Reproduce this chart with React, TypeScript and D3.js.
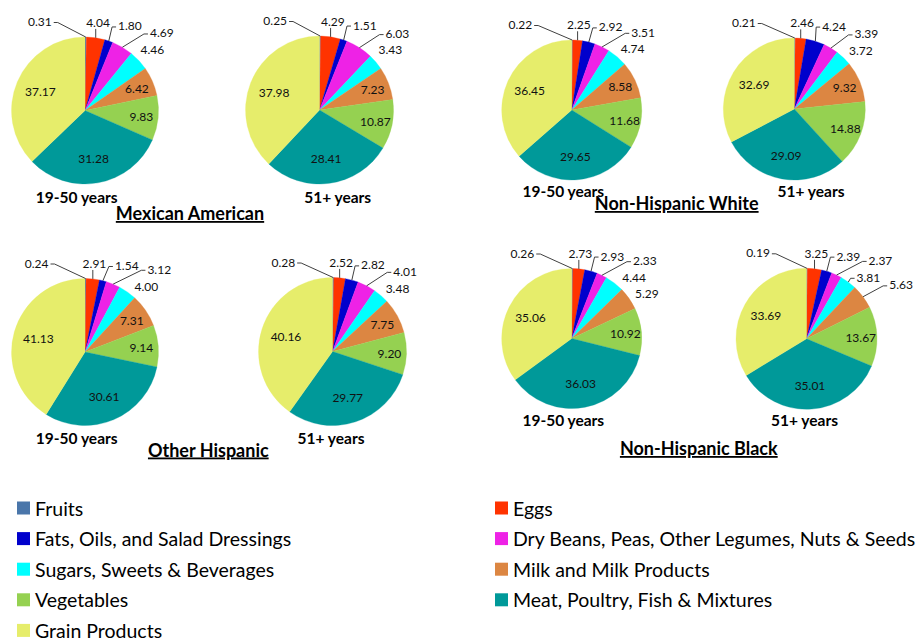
import React, { useMemo } from "react";
import * as d3 from "d3";

// ---------------- DATA ----------------
const categories = [
  "Fruits",
  "Eggs",
  "Fats, Oils, and Salad Dressings",
  "Dry Beans, Peas, Other Legumes, Nuts & Seeds",
  "Sugars, Sweets & Beverages",
  "Milk and Milk Products",
  "Vegetables",
  "Meat, Poultry, Fish & Mixtures",
  "Grain Products",
];
const ethnicGroups = ["Mexican American", "Non-Hispanic White", "Other Hispanic", "Non-Hispanic Black"];
const ageGroups = ["19-50 years", "51+ years"];

const mexicanAmerican1950 = [0.31, 4.04, 1.8, 4.69, 4.46, 6.42, 9.83, 31.28, 37.17];
const mexicanAmerican51 = [0.25, 4.29, 1.51, 6.03, 3.43, 7.23, 10.87, 28.41, 37.98];
const nonHispanicWhite1950 = [0.22, 2.25, 2.92, 3.51, 4.74, 8.58, 11.68, 29.65, 36.45];
const nonHispanicWhite51 = [0.21, 2.46, 4.24, 3.39, 3.72, 9.32, 14.88, 29.09, 32.69];
const otherHispanic1950 = [0.24, 2.91, 1.54, 3.12, 4.0, 7.31, 9.14, 30.61, 41.13];
const otherHispanic51 = [0.28, 2.52, 2.82, 4.01, 3.48, 7.75, 9.2, 29.77, 40.16];
const nonHispanicBlack1950 = [0.26, 2.73, 2.93, 2.33, 4.44, 5.29, 10.92, 36.03, 35.06];
const nonHispanicBlack51 = [0.19, 3.25, 2.39, 2.37, 3.81, 5.63, 13.67, 35.01, 33.69];

const seriesByGroup = [
  [mexicanAmerican1950, mexicanAmerican51],
  [nonHispanicWhite1950, nonHispanicWhite51],
  [otherHispanic1950, otherHispanic51],
  [nonHispanicBlack1950, nonHispanicBlack51],
];

// ---------------- STYLE / LAYOUT ----------------
const colors = ["#4a76aa", "#ff3300", "#0000cc", "#ee22e6", "#00ffff", "#dc8642", "#95d151", "#009999", "#e6ed6b"];
const FONT = "Lato, 'Open Sans', sans-serif";

const pieLayout = [
  [{ cx: 85, cy: 110.5, r: 73.5 }, { cx: 319.5, cy: 110, r: 74 }],
  [{ cx: 571.7, cy: 110, r: 70 }, { cx: 794.3, cy: 109, r: 71 }],
  [{ cx: 85, cy: 352, r: 73.5 }, { cx: 332.5, cy: 351.5, r: 74 }],
  [{ cx: 571.7, cy: 338.5, r: 70 }, { cx: 806.5, cy: 338.8, r: 70.5 }],
];
const ageLabelLayout = [
  [{ x: 76.7, y: 203.3 }, { x: 337.7, y: 203.3 }],
  [{ x: 563.3, y: 196.7 }, { x: 811, y: 196.7 }],
  [{ x: 76.7, y: 444.3 }, { x: 331, y: 444.3 }],
  [{ x: 563.3, y: 426 }, { x: 804.5, y: 426 }],
];
const titleLayout = [
  { x: 190, y: 220 },
  { x: 676.7, y: 210 },
  { x: 208.3, y: 456.5 },
  { x: 698.8, y: 455 },
];

const LABEL_SIZE = 12;
let _canvas: HTMLCanvasElement | null = null;
function measure(text: string, size: number) {
  if (!_canvas) _canvas = document.createElement("canvas");
  const ctx = _canvas.getContext("2d")!;
  ctx.font = `${size}px Lato`;
  return ctx.measureText(text).width;
}

type Lab = { text: string; angle: number; w: number; h: number; x: number; y: number; ax: number; ay: number };

const PAD_Y = 3;

function overlaps(a: { x: number; y: number; w: number; h: number }, b: Lab, padX: number) {
  return (
    Math.abs(a.x - b.x) < (a.w + b.w) / 2 + padX && Math.abs(a.y - b.y) < (a.h + b.h) / 2 + PAD_Y
  );
}
function outsideCircle(x: number, y: number, w: number, h: number, r: number) {
  const nx = Math.max(x - w / 2, Math.min(0, x + w / 2));
  const ny = Math.max(y - h / 2, Math.min(0, y + h / 2));
  return Math.hypot(nx, ny) >= r + 3;
}

function layoutOutside(
  items: { text: string; angle: number; idx: number }[],
  r: number,
  minY: number,
  maxX: number
): Lab[] {
  const gap = 9;
  const base: Lab[] = items.map((it) => {
    const w = measure(it.text, LABEL_SIZE) + 2;
    const h = 13;
    const ux = Math.sin(it.angle);
    const uy = -Math.cos(it.angle);
    const he = Math.min(
      Math.abs(ux) > 1e-6 ? w / 2 / Math.abs(ux) : Infinity,
      Math.abs(uy) > 1e-6 ? h / 2 / Math.abs(uy) : Infinity
    );
    const d = r + gap + he;
    return { text: it.text, angle: it.angle, w, h, x: ux * d, y: uy * d, ax: ux * r, ay: uy * r };
  });
  const order = base.map((_, i) => i).slice(1).concat([0]);
  const placed: Lab[] = [];
  for (const k of order) {
    const L = base[k];
    const leftward = k === 0;
    const padX = leftward ? 32 : 6;
    let best: { x: number; y: number } | null = null;
    let bestCost = Infinity;
    for (let dx = -160; dx <= 160; dx += 1) {
      for (let dy = -40; dy <= 60; dy += 1) {
        const wrongDir = leftward ? dx > 0 : dx < 0;
        const cost = Math.abs(dx) * (wrongDir ? 3 : 1) + Math.abs(dy) * (leftward ? 5 : 2.5);
        if (cost >= bestCost) continue;
        const c = { x: L.x + dx, y: L.y + dy, w: L.w, h: L.h };
        if (c.y - c.h / 2 < minY) continue;
        if (c.x + c.w / 2 > maxX) continue;
        if (!outsideCircle(c.x, c.y, c.w, c.h, r)) continue;
        if (placed.some((p) => overlaps(c, p, padX))) continue;
        best = { x: c.x, y: c.y };
        bestCost = cost;
      }
    }
    if (best) {
      L.x = best.x;
      L.y = best.y;
    }
    placed.push(L);
  }
  return base;
}

function leaderPath(l: Lab): string | null {
  const left = l.x - l.w / 2;
  const right = l.x + l.w / 2;
  const top = l.y - l.h / 2;
  const bottom = l.y + l.h / 2;
  const nx = Math.max(left, Math.min(l.ax, right));
  const ny = Math.max(top, Math.min(l.ay, bottom));
  const dist = Math.hypot(nx - l.ax, ny - l.ay);
  if (dist < 7) return null;
  if (l.ax < left) {
    const sx = left - 1;
    const sy = l.y + 1;
    return `M${sx},${sy}L${sx - 4},${sy}L${l.ax},${l.ay}`;
  }
  if (l.ax > right) {
    const sx = right + 1;
    const sy = l.y + 1;
    return `M${sx},${sy}L${sx + 4},${sy}L${l.ax},${l.ay}`;
  }
  const sy = l.ay > l.y ? bottom : top;
  return `M${l.ax},${sy}L${l.ax},${l.ay}`;
}

const pieGen = d3
  .pie<number>()
  .sort(null)
  .value((d) => d)
  .startAngle(0)
  .endAngle(2 * Math.PI);

function Pie({ values, cx, cy, r }: { values: number[]; cx: number; cy: number; r: number }) {
  const arcs = pieGen(values);
  const arcGen = d3.arc<d3.PieArcDatum<number>>().innerRadius(0).outerRadius(r);
  const fmt = d3.format(".2f");
  const outsideItems: { text: string; angle: number; idx: number }[] = [];
  const inside: { text: string; x: number; y: number }[] = [];
  arcs.forEach((a, i) => {
    const mid = (a.startAngle + a.endAngle) / 2;
    const text = fmt(a.data);
    if (i < 5 || a.data < 6) {
      outsideItems.push({ text, angle: mid, idx: i });
    } else {
      const f = a.data >= 20 ? 0.66 : 0.77;
      inside.push({ text, x: Math.sin(mid) * r * f, y: -Math.cos(mid) * r * f });
    }
  });
  const outside = layoutOutside(outsideItems, r, -cy + 6, 917 - cx);
  return (
    <g transform={`translate(${cx},${cy})`}>
      {arcs.map((a, i) => (
        <path key={i} d={arcGen(a) || ""} fill={colors[i]} stroke={colors[i]} strokeWidth={0.3} />
      ))}
      {outside.map((l, i) => {
        const p = leaderPath(l);
        return p ? <path key={"ld" + i} d={p} fill="none" stroke="#404040" strokeWidth={1} /> : null;
      })}
      {outside.map((l, i) => (
        <text key={"ot" + i} x={l.x} y={l.y} textAnchor="middle" dominantBaseline="central" fontSize={LABEL_SIZE} fontFamily={FONT} fill="#111">
          {l.text}
        </text>
      ))}
      {inside.map((l, i) => (
        <text key={"it" + i} x={l.x} y={l.y} textAnchor="middle" dominantBaseline="central" fontSize={LABEL_SIZE} fontFamily={FONT} fill="#111">
          {l.text}
        </text>
      ))}
    </g>
  );
}

export default function App() {
  const legendRows = useMemo(
    () =>
      categories.map((c, i) => ({
        name: c,
        color: colors[i],
        col: i % 2,
        row: Math.floor(i / 2),
      })),
    []
  );
  const legendX = [17, 495];
  const legendY0 = 508;
  const legendStep = 30.6;
  return (
    <svg
      width={921}
      height={641}
      style={{ position: "absolute", left: 0, top: 0, background: "#fff" }}
      fontFamily={FONT}
    >
      <rect x={0} y={0} width={921} height={641} fill="#fff" />
      {seriesByGroup.map((pair, g) =>
        pair.map((vals, a) => {
          const L = pieLayout[g][a];
          return <Pie key={`p${g}-${a}`} values={vals} cx={L.cx} cy={L.cy} r={L.r} />;
        })
      )}
      {seriesByGroup.map((pair, g) =>
        pair.map((_, a) => (
          <text
            key={`a${g}-${a}`}
            x={ageLabelLayout[g][a].x}
            y={ageLabelLayout[g][a].y}
            textAnchor="middle"
            fontWeight="bold"
            fontSize={15.5}
            fill="#000"
          >
            {ageGroups[a]}
          </text>
        ))
      )}
      {ethnicGroups.map((t, g) => (
        <text
          key={`t${g}`}
          x={titleLayout[g].x}
          y={titleLayout[g].y}
          textAnchor="middle"
          fontWeight="bold"
          fontSize={18}
          textDecoration="underline"
          fill="#000"
        >
          {t}
        </text>
      ))}
      {legendRows.map((d, i) => {
        const x = legendX[d.col];
        const y = legendY0 + d.row * legendStep;
        return (
          <g key={`l${i}`}>
            <rect x={x} y={y - 6.5} width={13} height={13} fill={d.color} />
            <text x={x + 18} y={y} dominantBaseline="central" fontSize={19.5} fill="#000">
              {d.name}
            </text>
          </g>
        );
      })}
    </svg>
  );
}
